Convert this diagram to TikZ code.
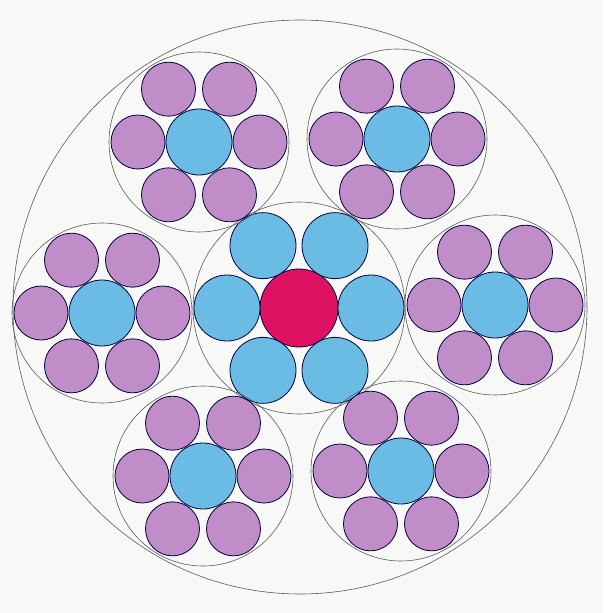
\documentclass[tikz,border=0pt]{standalone}
\definecolor{paper}{RGB}{248,248,246}
\definecolor{lilac}{RGB}{193,141,200}
\definecolor{skyblue}{RGB}{106,188,228}
\definecolor{crimson}{RGB}{222,18,98}
\definecolor{ringgrey}{RGB}{90,90,95}
\begin{document}
\begin{tikzpicture}[x=1pt,y=-1pt,
  wire/.style={circle,draw=black!75!blue,line width=0.8pt,inner sep=0pt,outer sep=0pt},
  kingwire/.style={wire,fill=crimson,minimum size=78pt},
  corewire/.style={wire,fill=skyblue,minimum size=66pt},
  centrewire/.style={wire,fill=skyblue,minimum size=66pt},
  outerwire/.style={wire,fill=lilac,minimum size=54pt},
  ring/.style={circle,draw=ringgrey,line width=0.6pt,inner sep=0pt,outer sep=0pt},
  strandring/.style={ring,minimum size=180pt},
  corering/.style={ring,minimum size=212pt},
  ropering/.style={ring,minimum size=574pt}]
  \fill[paper] (0,0) rectangle (603,613);
  \useasboundingbox (0,0) rectangle (603,613);
  % rope outline and core strand
  \node[ropering] (rope) at (300,307) {};
  \node[corering] (core) at (299,308) {};
  \node[kingwire] (king) at (core.center) {};
  \foreach \a [count=\i] in {0,60,...,300}
    \node[corewire] (k\i) at ([shift={(\a:72)}]king.center) {};
  % six outer strands
  \foreach \x/\y [count=\s] in {495/305,397/139,199/142,102/313,203/476,401/471} {
    \node[strandring] (s\s) at (\x,\y) {};
    \node[centrewire] (s\s w0) at (s\s.center) {};
    \foreach \a [count=\i] in {0,60,...,300}
      \node[outerwire] (s\s w\i) at ([shift={(\a:61)}]s\s.center) {};
  }
\end{tikzpicture}
\end{document}
